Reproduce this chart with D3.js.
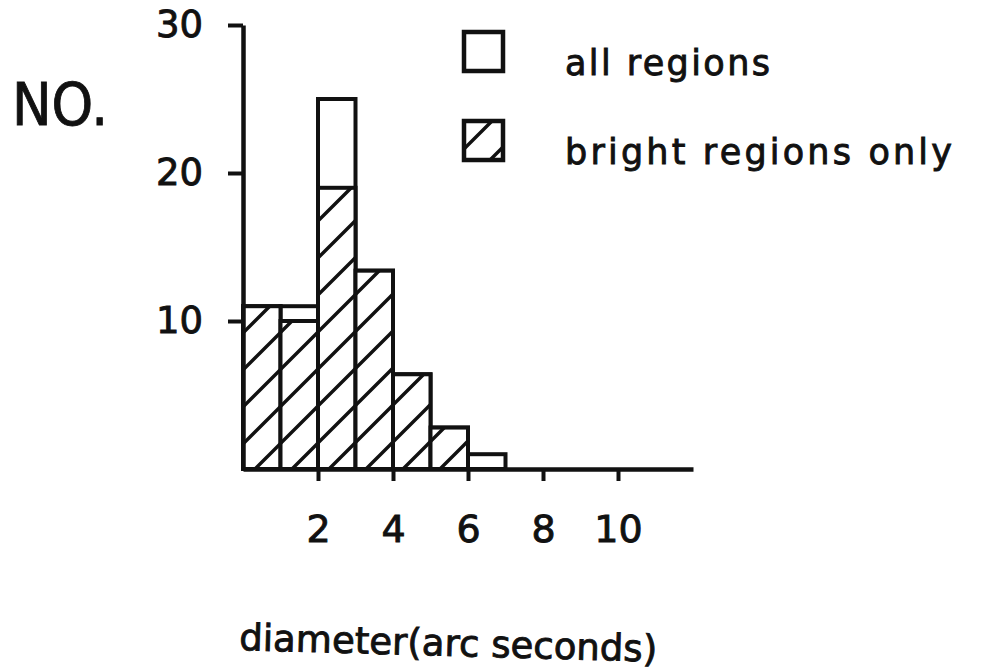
<!DOCTYPE html>
<html><head><meta charset="utf-8">
<script src="https://cdn.jsdelivr.net/npm/d3@7"></script>
<style>
html,body{margin:0;padding:0;background:#fff;}
text{font-family:"DejaVu Sans",sans-serif;fill:#111;stroke:#111;stroke-width:0.9px;}
</style></head>
<body>
<svg id="chart" width="984" height="672"></svg>
<script>
// ---- data ----
const binStart = [0, 1, 2, 3, 4, 5, 6];
const binWidth = 1;
const allRegions = [11, 11, 25, 13.4, 6.4, 2.8, 1];
const brightOnly = [11, 10, 19, 13.4, 6.4, 2.8, 0];
const xTicks = [2, 4, 6, 8, 10];
const yTicks = [10, 20, 30];
const legendLabels = ["all regions", "bright regions only"];

const svg = d3.select("#chart");
const x = d3.scaleLinear().domain([0, 12]).range([243, 693]);
const y = d3.scaleLinear().domain([0, 30]).range([469, 25]);

// hatch pattern
const defs = svg.append("defs");
const pat = defs.append("pattern").attr("id", "hatch")
  .attr("patternUnits", "userSpaceOnUse").attr("width", 37).attr("height", 37)
  .attr("x", 243).attr("y", 0);
pat.append("rect").attr("width", 37).attr("height", 37).attr("fill", "#fff");
pat.append("path").attr("d", "M0,37 L37,0 M-6,6 L6,-6 M31,43 L43,31")
  .attr("stroke", "#111").attr("stroke-width", 3.4);

// all-regions bars
svg.append("g").selectAll("rect").data(binStart).join("rect")
  .attr("x", d => x(d)).attr("width", d => x(d + binWidth) - x(d))
  .attr("y", (d, i) => y(allRegions[i])).attr("height", (d, i) => y(0) - y(allRegions[i]))
  .attr("fill", "#fff").attr("stroke", "#111").attr("stroke-width", 4);

// bright bars
svg.append("g").selectAll("rect").data(binStart.filter((d, i) => brightOnly[i] > 0)).join("rect")
  .attr("x", d => x(d)).attr("width", d => x(d + binWidth) - x(d))
  .attr("y", d => y(brightOnly[binStart.indexOf(d)]))
  .attr("height", d => y(0) - y(brightOnly[binStart.indexOf(d)]))
  .attr("fill", "url(#hatch)").attr("stroke", "#111").attr("stroke-width", 4);

// axes
const yAxis = svg.append("g").attr("transform", `translate(${x(0)},0)`)
  .call(d3.axisLeft(y).tickValues(yTicks).tickSize(15).tickSizeOuter(0).tickPadding(25));
yAxis.select(".domain").attr("stroke", "#111").attr("stroke-width", 4.5);
yAxis.selectAll(".tick line").attr("stroke", "#111").attr("stroke-width", 4);
yAxis.selectAll(".tick text").style("font-size", "37px").attr("fill", "#111");

const xAxis = svg.append("g").attr("transform", `translate(0,${y(0)})`)
  .call(d3.axisBottom(x).tickValues(xTicks).tickSize(12).tickSizeOuter(0).tickPadding(34));
xAxis.select(".domain").attr("stroke", "#111").attr("stroke-width", 4.5);
xAxis.selectAll(".tick line").attr("stroke", "#111").attr("stroke-width", 4);
xAxis.selectAll(".tick text").style("font-size", "38px").attr("fill", "#111");

// y title
svg.append("text").attr("x", 12).attr("y", 125).style("font-size", "58px")
  .attr("textLength", 96).attr("lengthAdjust", "spacingAndGlyphs").text("NO.");

// x title
svg.append("text").attr("transform", "translate(239,650) rotate(1.6)")
  .style("font-size", "37px").attr("textLength", 418).attr("lengthAdjust", "spacing")
  .text("diameter(arc seconds)");

// legend
const lg = svg.append("g");
const legendFills = ["#fff", "url(#hatch)"];
const legendY = [32, 121];
const legendTextLen = [205, 387];
lg.selectAll("rect").data(legendLabels).join("rect")
  .attr("x", 464).attr("y", (d, i) => legendY[i]).attr("width", 39).attr("height", 39)
  .attr("fill", (d, i) => legendFills[i]).attr("stroke", "#111").attr("stroke-width", 4.5);
lg.selectAll("text").data(legendLabels).join("text")
  .attr("x", 565).attr("y", (d, i) => legendY[i] + 43)
  .style("font-size", "35px")
  .attr("textLength", (d, i) => legendTextLen[i]).attr("lengthAdjust", "spacing")
  .text(d => d);
</script>
</body></html>
